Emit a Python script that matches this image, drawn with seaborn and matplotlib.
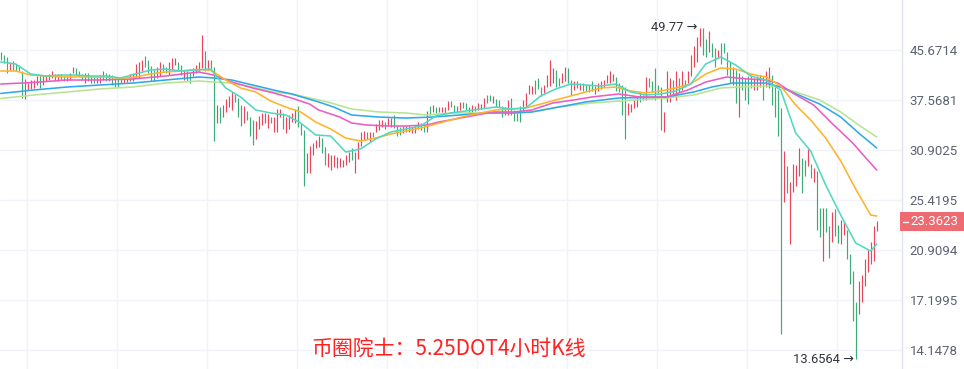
import matplotlib
matplotlib.use("Agg")
import matplotlib.pyplot as plt
import matplotlib.transforms as mtransforms
from matplotlib.patches import Rectangle
from matplotlib.ticker import NullLocator, FixedLocator
import pandas as pd
import seaborn as sns

# ---------------- data ----------------
high = [
    45.4, 44.8, 44.5, 43.6, 43.7, 43.3, 43.1, 42.0, 40.7, 40.1,
    40.6, 40.6, 41.2, 41.4, 41.2, 41.2, 41.6, 42.1, 41.6, 41.6,
    41.6, 41.2, 41.3, 41.7, 42.8, 42.5, 42.1, 41.6, 41.7, 41.7,
    41.2, 41.1, 41.1, 41.4, 42.0, 41.7, 41.6, 41.4, 40.9, 40.7,
    40.8, 40.9, 40.8, 41.6, 41.7, 43.2, 43.6, 44.0, 44.6, 43.9,
    42.9, 42.2, 42.8, 43.6, 43.2, 42.8, 43.6, 44.2, 44.3, 43.6,
    43.1, 42.2, 42.0, 41.7, 42.5, 43.1, 43.5, 48.4, 45.5, 43.9,
    43.9, 42.8, 36.8, 36.6, 36.8, 37.7, 38.1, 38.7, 38.4, 37.8,
    36.8, 36.7, 36.0, 35.1, 34.7, 34.6, 35.3, 35.7, 35.7, 35.5,
    35.2, 35.1, 36.2, 36.2, 35.7, 35.1, 35.4, 35.7, 36.2, 36.7,
    34.3, 33.4, 30.5, 31.4, 31.7, 32.1, 32.6, 32.4, 31.3, 30.5,
    30.3, 30.3, 30.1, 29.9, 29.7, 30.3, 30.7, 31.1, 30.7, 31.9,
    33.2, 33.3, 33.2, 33.2, 33.2, 34.2, 34.7, 34.8, 34.5, 35.0,
    35.0, 35.4, 33.9, 33.8, 33.9, 34.0, 34.0, 33.8, 33.9, 34.5,
    34.4, 34.1, 36.0, 36.7, 36.8, 36.5, 36.5, 36.5, 36.5, 37.4,
    37.4, 36.8, 36.7, 37.3, 37.3, 37.2, 36.6, 36.8, 36.7, 37.1,
    37.0, 37.8, 38.3, 38.3, 38.2, 37.7, 37.6, 36.7, 36.6, 37.6,
    37.8, 36.1, 35.7, 36.7, 37.5, 38.6, 39.8, 39.7, 40.6, 40.9,
    39.6, 39.8, 41.4, 43.9, 42.5, 42.2, 40.9, 41.8, 42.8, 42.5,
    40.6, 40.4, 40.5, 40.1, 40.2, 39.8, 39.8, 40.4, 39.7, 40.2,
    40.4, 40.6, 41.4, 42.0, 41.6, 41.1, 40.2, 39.8, 39.6, 37.1,
    37.0, 37.6, 38.1, 38.6, 38.3, 41.1, 40.9, 40.4, 42.6, 39.8,
    39.6, 35.9, 42.0, 40.9, 40.6, 42.0, 40.9, 42.0, 40.6, 42.0,
    44.8, 46.4, 48.1, 49.77, 49.7, 47.6, 49.1, 46.9, 46.0, 45.7,
    46.9, 46.9, 45.4, 43.6, 42.8, 42.2, 41.7, 41.2, 40.9, 41.2,
    41.4, 40.9, 41.2, 41.4, 41.2, 42.0, 42.8, 41.4, 39.6, 39.1,
    36.4, 30.8, 29.0, 27.3, 29.3, 29.2, 31.2, 29.9, 29.7, 31.0,
    29.3, 28.8, 28.5, 24.6, 24.6, 24.6, 22.97, 24.3, 24.5, 23.06,
    23.5, 23.4, 22.6, 20.6, 19.3, 17.07, 18.5, 18.97, 20.2, 20.9,
    21.6, 23.0, 23.45,
]
low = [
    43.9, 43.4, 41.7, 42.2, 42.2, 42.0, 42.0, 37.8, 37.7, 39.1,
    39.2, 39.3, 39.8, 39.3, 39.8, 40.4, 40.6, 40.9, 40.6, 40.4,
    40.6, 40.4, 40.5, 40.6, 41.7, 41.4, 41.2, 40.6, 40.1, 40.4,
    40.1, 40.1, 40.1, 40.1, 40.6, 40.4, 40.4, 39.8, 39.5, 39.5,
    40.1, 40.1, 40.3, 40.4, 40.4, 40.9, 40.9, 42.0, 42.8, 41.7,
    40.4, 40.4, 40.9, 41.2, 42.0, 41.7, 41.4, 42.2, 43.1, 42.2,
    41.4, 40.6, 40.4, 40.1, 41.2, 41.7, 42.0, 42.5, 42.0, 42.2,
    42.0, 32.0, 34.3, 34.3, 35.2, 35.9, 36.6, 36.1, 37.3, 35.2,
    33.9, 34.3, 34.8, 32.6, 31.5, 32.3, 33.6, 34.1, 34.4, 33.7,
    34.4, 33.2, 33.2, 35.2, 33.6, 33.0, 33.6, 34.5, 34.3, 33.8,
    32.8, 26.8, 28.2, 28.2, 30.3, 31.1, 31.3, 30.5, 29.1, 28.9,
    28.6, 28.9, 28.8, 28.9, 28.9, 29.1, 29.5, 29.7, 28.2, 29.8,
    31.4, 32.1, 32.2, 31.9, 32.5, 33.2, 33.4, 33.8, 33.5, 33.9,
    33.8, 33.7, 32.6, 32.8, 33.0, 33.2, 33.2, 33.0, 33.0, 33.6,
    33.4, 33.2, 33.2, 35.4, 35.9, 35.7, 35.8, 35.8, 35.7, 36.1,
    36.6, 35.8, 35.9, 36.1, 36.4, 36.1, 35.7, 35.9, 36.0, 36.1,
    36.2, 36.4, 37.1, 37.4, 37.1, 36.6, 36.6, 35.1, 35.4, 35.4,
    35.4, 34.6, 34.6, 34.5, 36.1, 36.6, 38.5, 38.5, 38.5, 39.2,
    38.1, 38.6, 39.6, 39.7, 40.1, 39.5, 39.7, 40.1, 40.4, 40.1,
    38.3, 39.1, 39.3, 39.1, 38.9, 38.9, 38.8, 38.9, 38.5, 38.9,
    39.2, 39.5, 40.1, 40.1, 40.5, 38.9, 38.8, 35.4, 32.2, 35.4,
    35.9, 36.4, 36.6, 37.3, 37.6, 37.6, 39.5, 38.8, 37.6, 38.6,
    33.4, 33.1, 37.3, 37.3, 38.1, 37.6, 38.8, 39.1, 39.5, 40.1,
    41.2, 42.8, 43.6, 46.3, 44.8, 44.5, 45.4, 44.5, 42.8, 44.2,
    43.3, 45.1, 41.4, 40.1, 39.8, 37.2, 35.1, 39.1, 37.6, 37.0,
    39.3, 39.1, 39.1, 39.6, 37.6, 39.6, 39.3, 36.8, 35.1, 32.6,
    15.06, 25.2, 26.1, 21.4, 26.2, 26.8, 27.9, 26.1, 27.9, 29.0,
    27.7, 27.3, 22.6, 22.0, 20.0, 22.4, 20.3, 21.6, 22.1, 21.5,
    21.4, 22.2, 20.2, 18.3, 15.87, 13.6564, 16.3, 17.08, 18.2, 19.2,
    19.8, 20.05, 22.55,
]
candle_up = [
    0, 0, 0, 1, 0, 0, 0, 0, 1, 1,
    1, 1, 1, 0, 1, 1, 1, 1, 1, 1,
    0, 0, 1, 1, 1, 0, 0, 0, 1, 0,
    1, 0, 1, 1, 1, 0, 1, 0, 0, 0,
    1, 1, 1, 1, 1, 1, 1, 1, 0, 0,
    0, 0, 1, 1, 0, 0, 1, 1, 1, 0,
    0, 1, 0, 0, 1, 1, 1, 1, 0, 1,
    0, 0, 1, 0, 1, 1, 1, 1, 0, 0,
    0, 1, 0, 0, 0, 1, 1, 1, 1, 1,
    0, 1, 1, 1, 0, 1, 1, 1, 1, 0,
    0, 0, 1, 1, 1, 1, 1, 0, 0, 1,
    1, 1, 1, 1, 1, 1, 1, 0, 1, 1,
    1, 1, 0, 1, 0, 1, 1, 1, 0, 1,
    1, 0, 0, 0, 1, 1, 1, 1, 1, 1,
    1, 0, 1, 0, 1, 0, 1, 1, 1, 1,
    0, 0, 1, 1, 0, 0, 1, 1, 0, 1,
    1, 1, 0, 0, 1, 0, 0, 0, 1, 1,
    0, 0, 0, 0, 1, 1, 1, 1, 0, 0,
    0, 1, 1, 1, 1, 0, 0, 1, 1, 0,
    0, 1, 1, 1, 0, 0, 0, 0, 1, 1,
    1, 1, 1, 1, 1, 0, 0, 0, 0, 1,
    1, 1, 1, 0, 1, 1, 0, 0, 0, 0,
    0, 1, 1, 1, 0, 1, 0, 1, 0, 1,
    1, 1, 1, 1, 0, 0, 1, 0, 0, 1,
    0, 0, 0, 0, 1, 0, 1, 0, 0, 0,
    0, 1, 1, 1, 0, 1, 1, 0, 0, 0,
    0, 1, 0, 1, 1, 1, 1, 0, 0, 1,
    0, 1, 0, 0, 1, 0, 0, 1, 0, 0,
    1, 1, 0, 0, 0, 0, 1, 1, 1, 1,
    1, 1, 1,
]

# moving averages, read at candle positions
teal_idx = list(range(0, 291, 5)) + [292]
ma_teal = [
    43.58, 43.24, 41.59, 41.26, 41.42, 41.42, 41.26, 41.26, 40.94, 41.59,
    42.24, 42.40, 42.07, 42.24, 42.40, 39.37, 38.01, 36.13, 35.71, 35.43,
    34.34, 32.77, 32.64, 30.66, 31.03, 32.26, 33.15, 33.54, 33.94, 35.29,
    35.71, 35.99, 36.27, 36.55, 36.27, 36.41, 38.16, 39.22, 39.99, 39.83,
    39.68, 39.99, 38.76, 38.31, 38.46, 38.91, 39.99, 43.24, 44.44, 43.07,
    41.26, 40.62, 39.06, 33.02, 30.78, 26.95, 23.97, 21.49, 20.83,
    21.40,
]
orange_idx = list(range(0, 291, 5)) + [292]
ma_orange = [
    42.07, 42.07, 41.42, 41.26, 41.10, 41.10, 41.10, 41.10, 40.86, 41.10,
    41.59, 41.91, 42.07, 42.32, 42.24, 40.62, 39.37, 38.76, 37.42, 36.55,
    35.85, 34.47, 33.54, 32.38, 32.00, 32.38, 32.89, 33.28, 33.67, 34.20,
    34.74, 35.29, 35.71, 36.13, 36.27, 36.41, 36.98, 37.57, 38.16, 38.76,
    39.37, 39.52, 38.91, 38.61, 38.91, 39.37, 39.99, 41.59, 42.57, 42.40,
    41.59, 41.10, 39.68, 36.84, 34.74, 32.38, 29.61, 26.53, 23.97,
    23.88,
]
pink_idx = [0, 7, 13, 22, 33, 44, 55, 66, 71, 77, 84, 91, 97, 103, 106, 113,
            117, 122, 129, 135, 142, 146, 155, 164, 171, 177, 184, 191, 197,
            206, 213, 222, 229, 235, 242, 249, 255, 259, 264, 271, 277, 284,
            289, 292]
ma_pink = [39.99, 40.14, 40.30, 40.62, 40.62, 40.78, 41.26, 41.91, 41.42, 40.30,
           39.37, 38.61, 37.86, 36.97, 36.13, 35.15, 34.34, 34.07, 33.94, 33.94,
           34.07, 34.47, 35.15, 35.85, 35.85, 36.13, 37.13, 37.57, 38.01, 38.46,
           38.01, 38.01, 39.06, 40.30, 41.10, 40.78, 40.62, 40.14, 38.61, 36.84,
           34.34, 31.76, 29.72, 28.58]
blue_idx = [0, 11, 22, 33, 44, 55, 66, 71, 77, 84, 91, 97, 106, 111, 117, 126,
            135, 144, 153, 162, 171, 177, 186, 195, 206, 222, 231, 237, 244,
            255, 260, 266, 273, 280, 286, 292]
ma_blue = [38.54, 39.06, 39.52, 39.83, 40.14, 40.62, 41.10, 40.94, 40.62, 39.83,
           39.06, 38.46, 37.28, 36.55, 35.43, 35.15, 35.01, 35.15, 35.43, 35.71,
           35.71, 35.85, 36.55, 37.28, 37.86, 38.01, 38.76, 39.52, 40.14, 40.14,
           39.52, 38.31, 36.98, 35.15, 33.02, 31.15]
lime_idx = [0, 11, 22, 33, 44, 55, 66, 71, 77, 84, 91, 97, 109, 117, 126, 135,
            142, 151, 160, 171, 177, 186, 197, 211, 222, 231, 240, 246, 255,
            260, 266, 273, 280, 286, 292]
ma_lime = [37.79, 38.31, 38.76, 39.22, 39.52, 40.14, 40.46, 40.30, 40.14, 39.52,
           38.76, 38.46, 37.28, 36.27, 35.85, 35.71, 35.43, 35.71, 35.71, 35.71,
           35.85, 36.55, 37.13, 37.57, 37.86, 38.31, 39.37, 39.52, 39.68, 39.52,
           38.61, 37.57, 35.85, 34.07, 32.51]

ytick_values = [14.1478, 17.1995, 20.9094, 25.4195, 30.9025, 37.5681, 45.6714]
ytick_labels = ["14.1478", "17.1995", "20.9094", "25.4195", "30.9025", "37.5681", "45.6714"]
last_price = 23.3623
last_label = "23.3623"
max_idx, max_val, max_label = 233, 49.77, "49.77 \u2192"
min_idx, min_val, min_label = 285, 13.6564, "13.6564 \u2192"
caption = "币圈院士：5.25DOT4小时K线"

# ---------------- style ----------------
sns.set_theme(style="white")
plt.rcParams["font.family"] = ["Roboto", "DejaVu Sans"]

UP = "#e8465c"
DOWN = "#3cad78"
GRID = "#f0f3fa"
TXT = "#5d6272"
ma_palette = {"MA1": "#52d8c0", "MA2": "#ffb32a", "MA3": "#ec5cc4",
              "MA4": "#30a9ea", "MA5": "#b8e394"}

W, H = 964, 369
fig = plt.figure(figsize=(W / 100, H / 100), dpi=100)
plot_w = 902
ax = fig.add_axes([0, 0, plot_w / W, 1])

# candles (thin high-low bars, body collapses to 1px at this spacing)
cdf = pd.DataFrame({"idx": range(len(high)), "high": high, "low": low,
                    "up": candle_up})
for flag, col in ((1, UP), (0, DOWN)):
    sub = cdf[cdf["up"] == flag]
    ax.vlines(sub["idx"], sub["low"], sub["high"], color=col, lw=0.85, zorder=2)

# moving averages via seaborn
rows = []
for name, idxs, vals in (("MA5", lime_idx, ma_lime), ("MA4", blue_idx, ma_blue),
                         ("MA3", pink_idx, ma_pink), ("MA2", orange_idx, ma_orange),
                         ("MA1", teal_idx, ma_teal)):
    for i, v in zip(idxs, vals):
        rows.append({"idx": i, "price": v, "ma": name})
mdf = pd.DataFrame(rows)
sns.lineplot(data=mdf, x="idx", y="price", hue="ma", palette=ma_palette,
             hue_order=["MA5", "MA4", "MA3", "MA2", "MA1"], sort=False,
             estimator=None, legend=False, linewidth=1.15, ax=ax, zorder=3)

ax.set_yscale("log")
ax.set_ylim(13.137, 55.52)
ax.set_xlim(-0.23, -0.23 + plot_w / 3)
ax.yaxis.set_major_locator(FixedLocator(ytick_values))
ax.set_yticklabels(ytick_labels)
ax.yaxis.set_minor_locator(NullLocator())
ax.set_xticks([8.67 + 30 * k for k in range(10)])
ax.set_xticklabels([])
ax.yaxis.tick_right()
ax.tick_params(axis="y", length=0, pad=5.5, labelsize=9.5, labelcolor=TXT)
ax.tick_params(axis="x", length=0)
ax.grid(True, color=GRID, lw=1.0, zorder=0)
ax.set_axisbelow(True)
ax.set_xlabel("")
ax.set_ylabel("")
for s in ("top", "left", "bottom"):
    ax.spines[s].set_visible(False)
ax.spines["right"].set_color("#e0e3eb")
ax.spines["right"].set_linewidth(1.0)

# high / low markers
ax.text(max_idx - 0.85, max_val, max_label, ha="right", va="center",
        fontsize=9.3, color="#30333b")
ax.text(min_idx - 0.6, min_val, min_label, ha="right", va="center",
        fontsize=9.3, color="#30333b")

# last price tag on the scale
y_px = ax.transData.transform((0, last_price))[1]
fig.add_artist(Rectangle((900 / W, (y_px - 9.5) / H), 64 / W, 19 / H,
                         transform=fig.transFigure, fc="#ee6b72", ec="none",
                         zorder=5))
trans = mtransforms.blended_transform_factory(fig.transFigure, ax.transData)
fig.text(910 / W, y_px / H, last_label, ha="left", va="center",
         fontsize=9.5, color="white", zorder=6)
fig.add_artist(plt.Line2D([903 / W, 908 / W], [y_px / H, y_px / H],
                          transform=fig.transFigure, color="white", lw=1.0,
                          zorder=7))

fig.text(311 / W, 1 - 349 / H, caption, ha="left", va="center", color="#ff2020",
         fontsize=15, family=["Noto Sans CJK SC", "DejaVu Sans"])

fig.savefig("out.png", dpi=100)
